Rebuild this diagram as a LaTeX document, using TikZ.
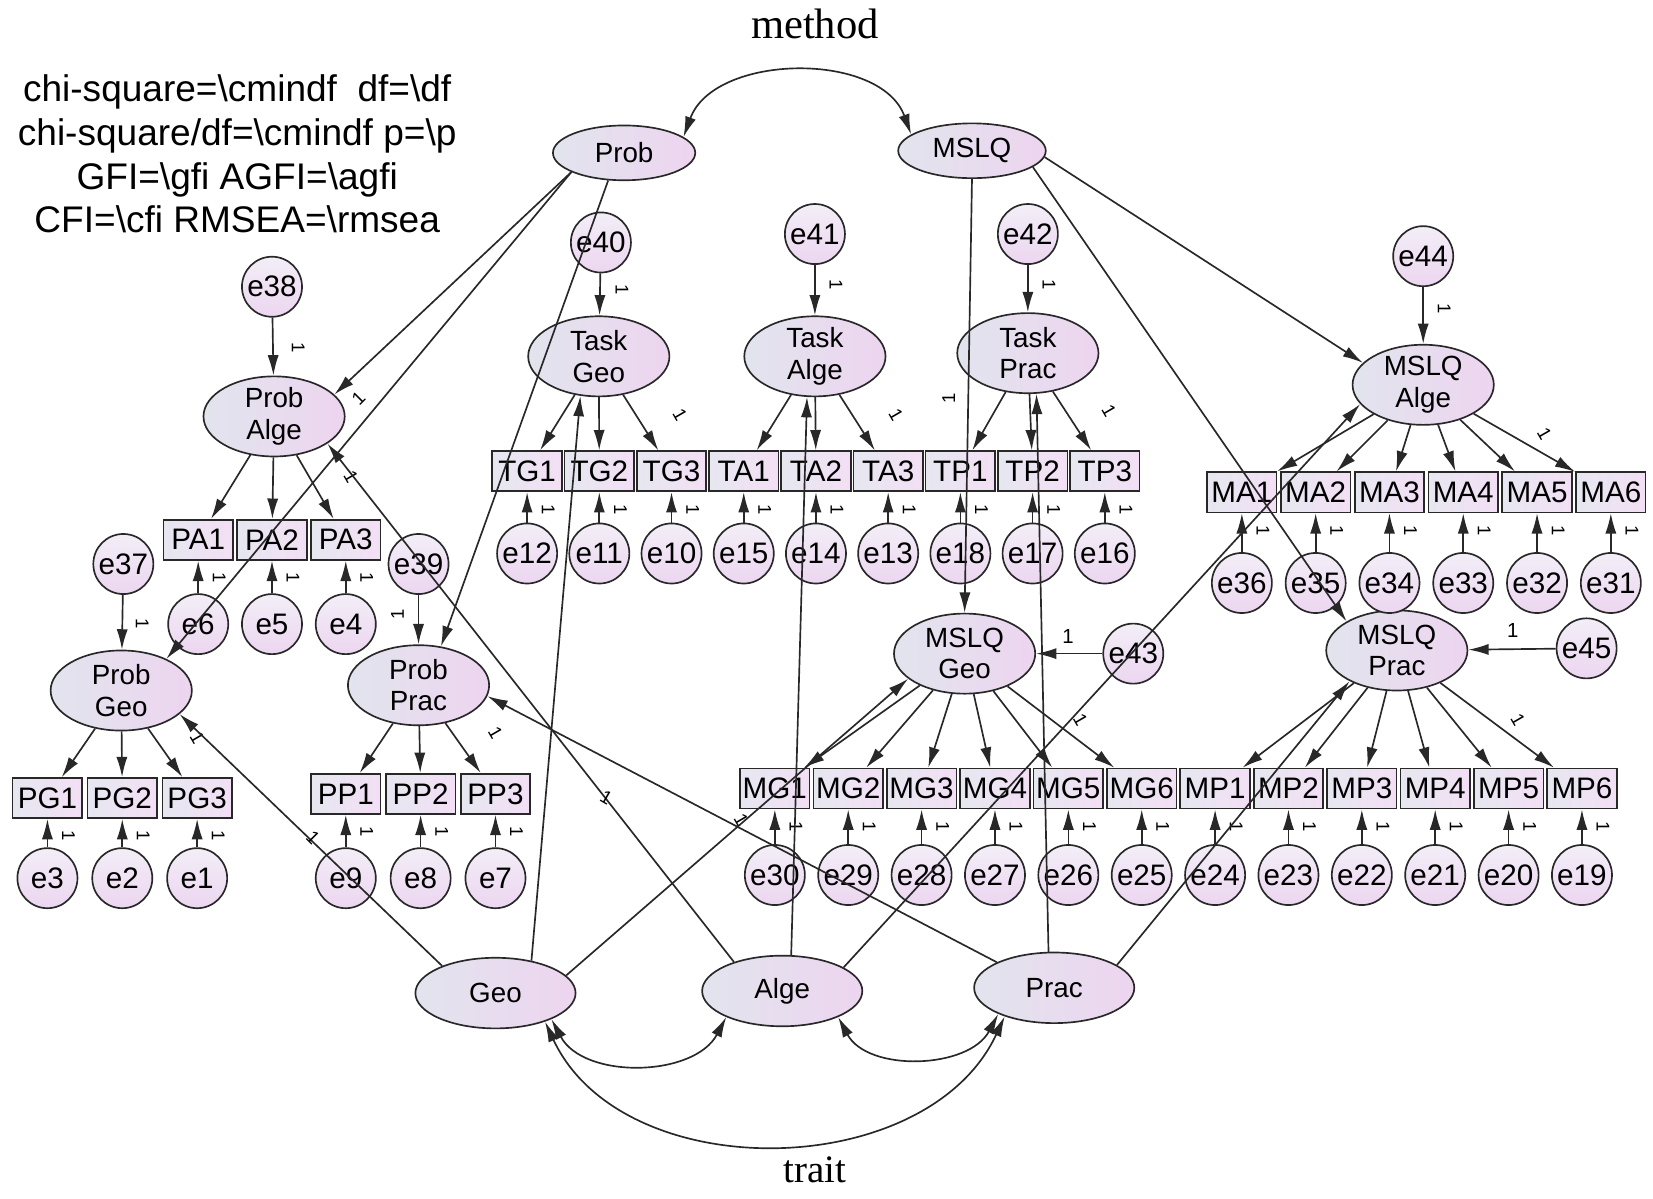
\documentclass[tikz,border=0pt]{standalone}
\usepackage{fontspec}
\setmainfont{Liberation Sans}
\newfontfamily\methodfont{Liberation Serif}
\usepackage{tikz}
\usetikzlibrary{arrows.meta, positioning, shapes.geometric}
\usepackage{xcolor}
\definecolor{lineGray}{RGB}{40,40,40}
\definecolor{latLeft}{RGB}{226,228,238}
\definecolor{latRight}{RGB}{237,213,239}
\definecolor{obsLeft}{RGB}{230,231,240}
\definecolor{obsRight}{RGB}{243,223,245}
\definecolor{errTop}{RGB}{243,238,247}
\definecolor{errBottom}{RGB}{236,214,240}
\tikzset{%
	latent/.style={
		ellipse,
		draw=lineGray,
		line width=0.9pt,
		left color=latLeft,
		right color=latRight,
		inner sep=-5pt,
		align=center,
		font=\fontsize{15}{17}\selectfont
	},
	first order/.style={
		latent,
		minimum width=2.68cm,
		minimum height=1.52cm
	},
	observed/.style={
		rectangle,
		draw=lineGray,
		line width=0.9pt,
		left color=obsLeft,
		right color=obsRight,
		minimum width=1.32cm,
		minimum height=0.76cm,
		inner sep=0pt,
		font=\fontsize{16}{17}\selectfont
	},
	error term/.style={
		circle,
		draw=lineGray,
		line width=0.9pt,
		top color=errTop,
		bottom color=errBottom,
		minimum size=1.14cm,
		inner sep=0pt,
		font=\fontsize{16}{17}\selectfont
	},
	path arrow/.style={
		draw=lineGray,
		line width=0.9pt,
		-{Latex[length=11pt,width=6pt]}
	},
	covariance/.style={
		draw=lineGray,
		line width=0.9pt,
		{Latex[length=11pt,width=6pt]}-{Latex[length=11pt,width=6pt]}
	},
	fix label/.style={
		inner sep=0pt,
		font=\fontsize{10}{11}\selectfont
	},
}

\begin{document}
\begin{tikzpicture}[x=0.02cm, y=-0.02cm]
	\useasboundingbox (0,0) rectangle (1568,1137);

	% Fit statistics and the two titles
	\node[align=center, font=\fontsize{20}{23.6}\selectfont] (fit) at (225,146) {chi-square=\textbackslash cmindf~~df=\textbackslash df\\chi-square/df=\textbackslash cmindf p=\textbackslash p\\GFI=\textbackslash gfi AGFI=\textbackslash agfi\\CFI=\textbackslash cfi RMSEA=\textbackslash rmsea};
	\node[font=\methodfont\fontsize{23}{26}\selectfont] (method) at (773,23) {method};
	\node[font=\methodfont\fontsize{21}{24}\selectfont] (trait) at (773,1110) {trait};

	% Method factors
	\node[latent, minimum width=2.7cm, minimum height=1.04cm] (Prob) at (592,145) {Prob};
	\node[latent, minimum width=2.8cm, minimum height=1.04cm] (MSLQ) at (922,143) {MSLQ};

	% Trait factors
	\foreach \nm/\x/\y in {Geo/470/942, Alge/742/940, Prac/1000/937}
		\node[latent, minimum width=3.04cm, minimum height=1.34cm] (\nm) at (\x,\y) {\nm};

	% First-order factors
	\foreach \nm/\x/\y/\wa/\wb in {ProbAlge/260/395/Prob/Alge, ProbGeo/115/655/Prob/Geo, ProbPrac/397/650/Prob/Prac, TaskGeo/568/338/Task/Geo, TaskAlge/773/338/Task/Alge, TaskPrac/975/335/Task/Prac, MSLQAlge/1350/365/MSLQ/Alge, MSLQGeo/915/620/MSLQ/Geo, MSLQPrac/1325/617/MSLQ/Prac}
		\node[first order] (\nm) at (\x,\y) {\wa\\\wb};

	% Disturbances
	\foreach \dist/\x/\y/\fac in {e38/258/272/ProbAlge, e37/117/535/ProbGeo, e39/397/535/ProbPrac, e40/570/230/TaskGeo, e41/773/222/TaskAlge, e42/975/222/TaskPrac, e44/1350/243/MSLQAlge, e43/1075/620/MSLQGeo, e45/1505/615/MSLQPrac} {
		\node[error term] (\dist) at (\x,\y) {\dist};
		\draw[path arrow] (\dist) -- (\fac);
	}
	\foreach \dist/\x/\y/\r in {e38/283/330/-90, e37/135/592/-90, e39/377/583/90, e40/590/275/-90, e41/793/270/-90, e42/995/270/-90, e44/1370/293/-90}
		\node[fix label, rotate=\r] (one-\dist) at (\x,\y) {1};
	\node[fix label, font=\fontsize{11}{12}\selectfont] (one-e43) at (1013,604) {1};
	\node[fix label, font=\fontsize{11}{12}\selectfont] (one-e45) at (1435,598) {1};

	% Loop through the indicator rows
	\foreach \lab/\err [count=\i] in {PA1/e6,PA2/e5,PA3/e4} {
		\node[observed] (\lab) at ({188+70*(\i-1)},512) {\lab};
		\node[error term] (\err) at ({188+70*(\i-1)},592) {\err};
		\draw[path arrow] (ProbAlge) -- (\lab);
		\draw[path arrow] (\err) -- (\lab);
		\node[fix label, rotate=-90] (one-\err) at ([xshift=0.4cm,yshift=-0.72cm]\lab.center) {1};
	}
	\foreach \lab/\err [count=\i] in {PG1/e3,PG2/e2,PG3/e1} {
		\node[observed] (\lab) at ({45+71*(\i-1)},757) {\lab};
		\node[error term] (\err) at ({45+71*(\i-1)},833) {\err};
		\draw[path arrow] (ProbGeo) -- (\lab);
		\draw[path arrow] (\err) -- (\lab);
		\node[fix label, rotate=-90] (one-\err) at ([xshift=0.4cm,yshift=-0.72cm]\lab.center) {1};
	}
	\foreach \lab/\err [count=\i] in {PP1/e9,PP2/e8,PP3/e7} {
		\node[observed] (\lab) at ({328+71*(\i-1)},753) {\lab};
		\node[error term] (\err) at ({328+71*(\i-1)},833) {\err};
		\draw[path arrow] (ProbPrac) -- (\lab);
		\draw[path arrow] (\err) -- (\lab);
		\node[fix label, rotate=-90] (one-\err) at ([xshift=0.4cm,yshift=-0.72cm]\lab.center) {1};
	}
	\foreach \lab/\err/\fac [count=\i] in {TG1/e12/TaskGeo,TG2/e11/TaskGeo,TG3/e10/TaskGeo,TA1/e15/TaskAlge,TA2/e14/TaskAlge,TA3/e13/TaskAlge,TP1/e18/TaskPrac,TP2/e17/TaskPrac,TP3/e16/TaskPrac} {
		\node[observed] (\lab) at ({500+68.5*(\i-1)},447) {\lab};
		\node[error term] (\err) at ({500+68.5*(\i-1)},525) {\err};
		\draw[path arrow] (\fac) -- (\lab);
		\draw[path arrow] (\err) -- (\lab);
		\node[fix label, rotate=-90] (one-\err) at ([xshift=0.4cm,yshift=-0.72cm]\lab.center) {1};
	}
	\foreach \lab/\err [count=\i] in {MA1/e36,MA2/e35,MA3/e34,MA4/e33,MA5/e32,MA6/e31} {
		\node[observed] (\lab) at ({1178+70*(\i-1)},467) {\lab};
		\node[error term] (\err) at ({1178+70*(\i-1)},553) {\err};
		\draw[path arrow] (MSLQAlge) -- (\lab);
		\draw[path arrow] (\err) -- (\lab);
		\node[fix label, rotate=-90] (one-\err) at ([xshift=0.4cm,yshift=-0.72cm]\lab.center) {1};
	}
	\foreach \lab/\err/\fac [count=\i] in {MG1/e30/MSLQGeo,MG2/e29/MSLQGeo,MG3/e28/MSLQGeo,MG4/e27/MSLQGeo,MG5/e26/MSLQGeo,MG6/e25/MSLQGeo,MP1/e24/MSLQPrac,MP2/e23/MSLQPrac,MP3/e22/MSLQPrac,MP4/e21/MSLQPrac,MP5/e20/MSLQPrac,MP6/e19/MSLQPrac} {
		\node[observed] (\lab) at ({735+69.6*(\i-1)},748) {\lab};
		\node[error term] (\err) at ({735+69.6*(\i-1)},830) {\err};
		\draw[path arrow] (\fac) -- (\lab);
		\draw[path arrow] (\err) -- (\lab);
		\node[fix label, rotate=-90] (one-\err) at ([xshift=0.4cm,yshift=-0.72cm]\lab.center) {1};
	}
	\foreach \nm/\x/\y in {PA3/333/452, PG3/187/700, PP3/470/695, TG3/645/393, TA3/850/393, TP3/1052/390, MA6/1465/411, MG6/1025/683, MP6/1440/683}
		\node[fix label, rotate=-60] (one-\nm) at (\x,\y) {1};

	% Method loadings
	\draw[path arrow] (Prob.200) -- (ProbAlge.20);
	\draw[path arrow] (Prob.200) -- (ProbGeo.35);
	\draw[path arrow] (Prob.240) -- (ProbPrac.60);
	\draw[path arrow] (MSLQ.south) -- (MSLQGeo.north);
	\draw[path arrow] (MSLQ.-5) -- (MSLQAlge.160);
	\draw[path arrow] (MSLQ.-15) -- (MSLQPrac.150);
	\node[fix label, rotate=45] (one-Prob) at (340,378) {1};
	\node[fix label, rotate=90] (one-MSLQ) at (900,378) {1};

	% Trait loadings
	\draw[path arrow] (Geo.153) -- (ProbGeo.-22);
	\draw[path arrow] (Geo.42) -- (TaskGeo.-115);
	\draw[path arrow] (Geo.14) -- (MSLQGeo.-156);
	\draw[path arrow] (Alge.149) -- (ProbAlge.-27);
	\draw[path arrow] (Alge.76) -- (TaskAlge.-101);
	\draw[path arrow] (Alge.21) -- (MSLQAlge.-163);
	\draw[path arrow] (Prac.156) -- (ProbPrac.-9);
	\draw[path arrow] (Prac.99) -- (TaskPrac.-78);
	\draw[path arrow] (Prac.20) -- (MSLQPrac.-147);
	\node[fix label, rotate=-45] (one-Geo) at (297,795) {1};
	\node[fix label, rotate=-30] (one-Alge) at (575,757) {1};
	\node[fix label, rotate=-60] (one-Prac) at (703,778) {1};

	% Covariances
	\draw[covariance] (Prob.15) to[out=70,in=110] (MSLQ.165);
	\draw[covariance] (Geo.-25) to[out=-62,in=-118] (Alge.-155);
	\draw[covariance] (Alge.-25) to[out=-62,in=-118] (Prac.-155);
	\draw[covariance] (Geo.-30) to[out=-65,in=-115,looseness=1.02] (Prac.-150);
\end{tikzpicture}
\end{document}
